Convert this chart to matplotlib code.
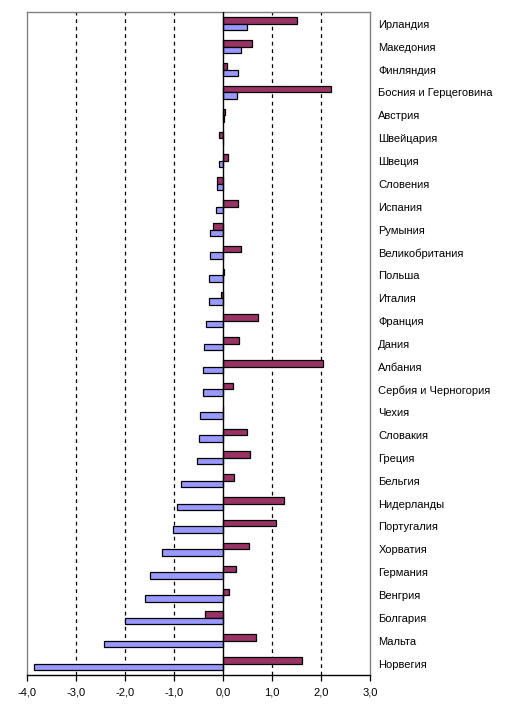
import matplotlib.pyplot as plt
import numpy as np

plt.rcParams['font.family'] = ['Liberation Sans', 'DejaVu Sans']

countries = ['Ирландия', 'Македония', 'Финляндия', 'Босния и Герцеговина', 'Австрия',
             'Швейцария', 'Швеция', 'Словения', 'Испания', 'Румыния',
             'Великобритания', 'Польша', 'Италия', 'Франция', 'Дания',
             'Албания', 'Сербия и Черногория', 'Чехия', 'Словакия', 'Греция',
             'Бельгия', 'Нидерланды', 'Португалия', 'Хорватия', 'Германия',
             'Венгрия', 'Болгария', 'Мальта', 'Норвегия']

# maroon series (upper bar of each pair)
series_a = [1.52, 0.59, 0.08, 2.20, 0.04,
            -0.08, 0.10, -0.12, 0.30, -0.20,
            0.37, 0.03, -0.03, 0.71, 0.33,
            2.05, 0.20, 0.0, 0.49, 0.55,
            0.22, 1.24, 1.08, 0.53, 0.26,
            0.12, -0.37, 0.67, 1.61]

# blue series (lower bar of each pair)
series_b = [0.49, 0.37, 0.30, 0.28, 0.03,
            0.0, -0.08, -0.12, -0.14, -0.26,
            -0.26, -0.29, -0.29, -0.35, -0.39,
            -0.41, -0.41, -0.47, -0.49, -0.53,
            -0.86, -0.93, -1.02, -1.24, -1.48,
            -1.58, -2.00, -2.42, -3.84]

xticks = [-4, -3, -2, -1, 0, 1, 2, 3]
xticklabels = ['-4,0', '-3,0', '-2,0', '-1,0', '0,0', '1,0', '2,0', '3,0']

fig = plt.figure(figsize=(5.14, 7.17), dpi=100)
ax = fig.add_axes([0.0516, 0.0586, 0.6682, 0.924])

y = np.arange(len(countries))
h = 0.285
ax.barh(y - h / 2, series_a, height=h, color='#993366', edgecolor='black', linewidth=0.9, zorder=3)
ax.barh(y + h / 2, series_b, height=h, color='#9999FF', edgecolor='black', linewidth=0.9, zorder=3)

ax.set_xlim(-4, 3)
ax.set_ylim(len(countries) - 0.5, -0.5)

for gx in [-3, -2, -1, 1, 2]:
    ax.axvline(gx, color='black', linestyle=(0, (3, 3)), linewidth=0.9, zorder=1)
ax.axvline(0, color='black', linewidth=1.0, zorder=4)

ax.set_xticks(xticks)
ax.set_xticklabels(xticklabels, fontsize=8)
ax.tick_params(axis='x', direction='out', length=4, width=0.9, color='black', pad=5)

ax.yaxis.tick_right()
ax.set_yticks(y)
ax.set_yticklabels(countries, fontsize=8)
ax.tick_params(axis='y', length=0, pad=6)

for side in ['left', 'top', 'right']:
    ax.spines[side].set_color('#808080')
    ax.spines[side].set_linewidth(1.0)
ax.spines['bottom'].set_color('black')
ax.spines['bottom'].set_linewidth(1.0)

fig.savefig('out.png', dpi=100)
